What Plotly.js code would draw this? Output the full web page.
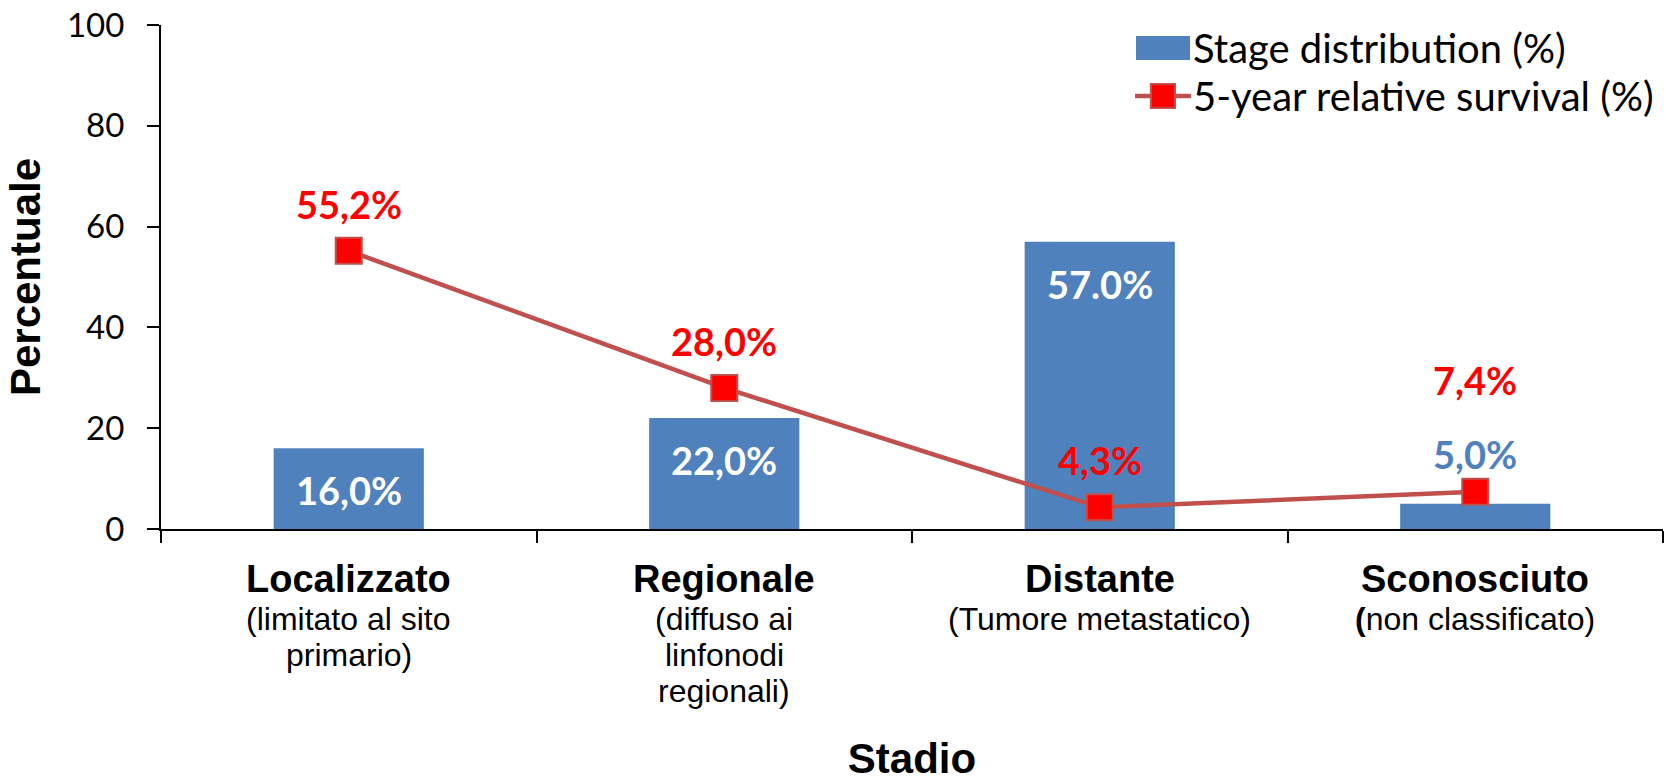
<!DOCTYPE html>
<html><head><meta charset="utf-8">
<script src="https://cdn.plot.ly/plotly-3.0.1.min.js"></script>
<style>html,body{margin:0;padding:0;background:#fff}#chart{width:1666px;height:782px}</style>
</head><body><div id="chart"></div>
<script>
const categories = ["Localizzato", "Regionale", "Distante", "Sconosciuto"];
const categoryNotes = [
  ["(limitato al sito", "primario)"],
  ["(diffuso ai", "linfonodi", "regionali)"],
  ["(Tumore metastatico)"],
  ["<b>(</b>non classificato)"]
];
const stageDistribution = [16.0, 22.0, 57.0, 5.0];
const stageLabels = ["16,0%", "22,0%", "57.0%", "5,0%"];
const survival = [55.2, 28.0, 4.3, 7.4];
const survivalLabels = ["55,2%", "28,0%", "4,3%", "7,4%"];
const yTicks = [0, 20, 40, 60, 80, 100];
const seriesNames = ["Stage distribution (%)", "5-year relative survival (%)"];

const BLUE = "#4F81BD", DARKRED = "#C0504D", RED = "#FF0000";
const calib = "Lato, 'Open Sans', sans-serif";
const arial = "'Liberation Sans', Arial, sans-serif";

const traces = [
  {type: "bar", x: categories, y: stageDistribution, name: seriesNames[0], width: 0.4,
   marker: {color: BLUE}, showlegend: false, hoverinfo: "x+y"},
  {type: "scatter", mode: "lines+markers", x: categories, y: survival, name: seriesNames[1],
   line: {color: DARKRED, width: 4.5},
   marker: {symbol: "square", size: 26, color: RED, line: {color: DARKRED, width: 2}},
   showlegend: false}
];

const annotations = [];
categories.forEach((c, i) => {
  annotations.push({x: c, xref: "x", y: 0, yref: "paper", yshift: -50, yanchor: "middle",
    text: "<b>" + c + "</b>", showarrow: false, font: {family: arial, size: 38, color: "#000"}});
  categoryNotes[i].forEach((ln, j) => {
    annotations.push({x: c, xref: "x", y: 0, yref: "paper", yshift: -90 - 36 * j, yanchor: "middle",
      text: ln, showarrow: false, font: {family: arial, size: 32, color: "#000"}});
  });
  const inside = stageDistribution[i] >= 10;
  annotations.push({x: c, y: stageDistribution[i], yshift: inside ? -42 : 50, yanchor: "middle",
    text: "<b>" + stageLabels[i] + "</b>", showarrow: false,
    font: {family: calib, size: 38, color: inside ? "#FFFFFF" : BLUE}});
  const above = (i === 3) ? 112 : 47;
  annotations.push({x: c, y: survival[i], yshift: above, yanchor: "middle",
    text: "<b>" + survivalLabels[i] + "</b>", showarrow: false,
    font: {family: calib, size: 38, color: RED}});
});
// custom legend text
const legX = (1191 - 161) / 1502;
annotations.push({x: legX, xref: "paper", xanchor: "left", y: (529 - 48) / 504, yref: "paper", yanchor: "middle",
  text: seriesNames[0], showarrow: false, font: {family: calib, size: 40, color: "#000"}});
annotations.push({x: legX, xref: "paper", xanchor: "left", y: (529 - 96) / 504, yref: "paper", yanchor: "middle",
  text: seriesNames[1], showarrow: false, font: {family: calib, size: 40, color: "#000"}});

const legSymX = (1163 - 161) / 1502;
const shapes = [
  {type: "rect", xref: "paper", yref: "paper", xsizemode: "pixel", ysizemode: "pixel",
   xanchor: legSymX, yanchor: (529 - 48) / 504, x0: -27, x1: 27, y0: -12, y1: 12,
   fillcolor: BLUE, line: {width: 0}},
  {type: "line", xref: "paper", yref: "paper", xsizemode: "pixel", ysizemode: "pixel",
   xanchor: legSymX, yanchor: (529 - 96) / 504, x0: -28, x1: 28, y0: 0, y1: 0,
   line: {color: DARKRED, width: 4.5}},
  {type: "rect", xref: "paper", yref: "paper", xsizemode: "pixel", ysizemode: "pixel",
   xanchor: legSymX, yanchor: (529 - 96) / 504, x0: -12, x1: 12, y0: -12, y1: 12,
   fillcolor: RED, line: {color: DARKRED, width: 2}}
];

const layout = {
  width: 1666, height: 782,
  margin: {l: 161, r: 3, t: 25, b: 253},
  paper_bgcolor: "#fff", plot_bgcolor: "#fff",
  showlegend: false,
  xaxis: {type: "category", range: [-0.5, 3.5], showline: true, linecolor: "#000", linewidth: 2,
    ticks: "outside", ticklen: 12, tickwidth: 2, tickcolor: "#000", tickson: "boundaries",
    showticklabels: false, showgrid: false, zeroline: false,
    title: {text: "<b>Stadio</b>", font: {family: arial, size: 42, color: "#000"}, standoff: 228}},
  yaxis: {range: [0, 100], tickvals: yTicks, showline: true, linecolor: "#000", linewidth: 2,
    ticks: "outside", ticklen: 12, tickwidth: 2, tickcolor: "#000", ticklabelstandoff: 16,
    tickfont: {family: calib, size: 33, color: "#000"}, showgrid: false, zeroline: false,
    title: {text: "<b>Percentuale</b>", font: {family: arial, size: 42, color: "#000"}, standoff: 13}},
  annotations: annotations,
  shapes: shapes
};
Plotly.newPlot("chart", traces, layout, {displayModeBar: false});
</script>
</body></html>
